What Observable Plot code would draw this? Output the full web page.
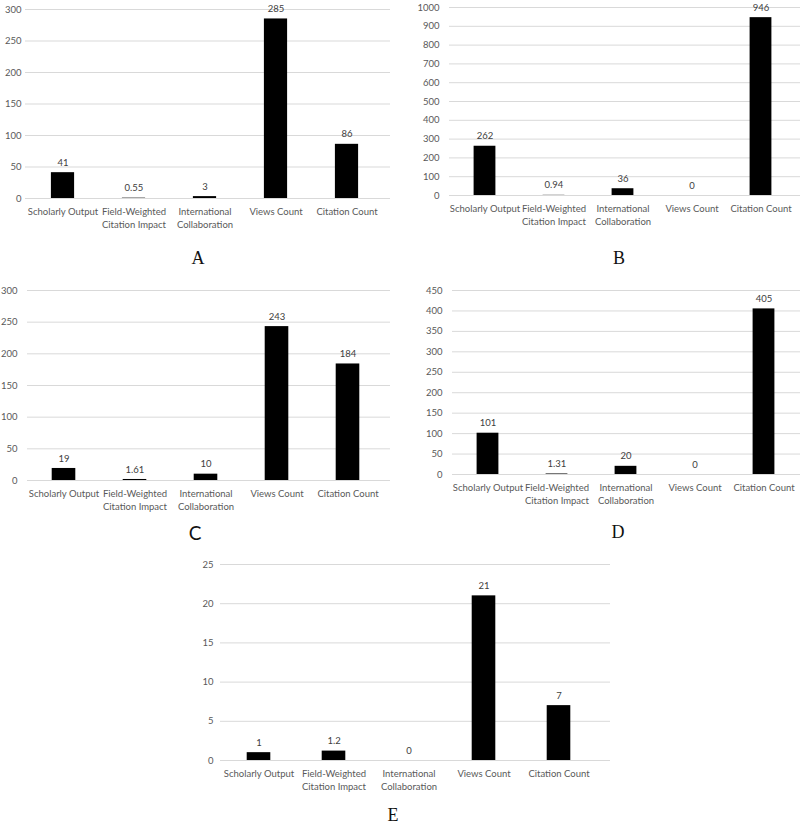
<!DOCTYPE html>
<html>
<head>
<meta charset="utf-8">
<script src="https://cdn.jsdelivr.net/npm/d3@7"></script>
<script src="https://cdn.jsdelivr.net/npm/@observablehq/plot@0.6"></script>
<style>
  body { margin: 0; background: #fff; }
  #root { position: relative; width: 800px; height: 828px; background: #fff; overflow: hidden; }
  .panel { position: absolute; }
  .letter { position: absolute; transform: translate(-50%, -50%); font-size: 18px; color: #111; line-height: 1; }
  .serif { font-family: "Liberation Serif", "DejaVu Serif", serif; }
  .sans { font-family: "Lato", "Liberation Sans", sans-serif; font-size: 19px; }
</style>
</head>
<body>
<div id="root"></div>
<script>
// Categories and tick labels
const categories = ["Scholarly Output", "Field-Weighted Citation Impact", "International Collaboration", "Views Count", "Citation Count"];
const tickLabels = ["Scholarly Output", "Field-Weighted\nCitation Impact", "International\nCollaboration", "Views Count", "Citation Count"];

// Series values per panel
const valuesA = [41, 0.55, 3, 285, 86];
const valuesB = [262, 0.94, 36, 0, 946];
const valuesC = [19, 1.61, 10, 243, 184];
const valuesD = [101, 1.31, 20, 0, 405];
const valuesE = [1, 1.2, 0, 21, 7];

// Y-axis maxima and tick steps
const yMaxA = 300, yStepA = 50;
const yMaxB = 1000, yStepB = 100;
const yMaxC = 300, yStepC = 50;
const yMaxD = 450, yStepD = 50;
const yMaxE = 25, yStepE = 5;

const panelLetters = ["A", "B", "C", "D", "E"];

const root = document.getElementById("root");

function makePanel(values, yMax, yStep, layout) {
  const data = categories.map((c, i) => ({cat: c, value: values[i]}));
  const ticks = d3.range(0, yMax + yStep / 2, yStep);
  const plotW = layout.width - layout.ml - layout.mr - layout.insetRight;
  const step = plotW / categories.length;
  const barInset = (step - layout.barW) / 2;
  const chart = Plot.plot({
    width: layout.width,
    height: layout.height,
    marginTop: layout.mt,
    marginBottom: layout.mb,
    marginLeft: layout.ml,
    marginRight: layout.mr,
    style: {fontFamily: "Lato, 'Liberation Sans', sans-serif", fontSize: "9.5px", color: "#595959", background: "transparent"},
    x: {domain: categories, padding: 0, insetRight: layout.insetRight, label: null},
    y: {domain: [0, yMax], label: null},
    marks: [
      Plot.ruleY(ticks, {stroke: "#d9d9d9", strokeWidth: 1}),
      Plot.barY(data, {x: "cat", y: "value", fill: "#000", insetLeft: barInset, insetRight: barInset}),
      Plot.text(data, {x: "cat", y: "value", text: d => String(d.value), dy: -10, fill: "#404040", fontSize: 9.5}),
      Plot.axisY({ticks, tickSize: 0, tickPadding: layout.yPad, tickFormat: d => String(d)}),
      Plot.axisX({tickSize: 0, tickPadding: 8, lineAnchor: "top", lineHeight: 1.3,
                  tickFormat: d => tickLabels[categories.indexOf(d)]})
    ]
  });
  const div = document.createElement("div");
  div.className = "panel";
  div.style.left = layout.left + "px";
  div.style.top = layout.top + "px";
  div.appendChild(chart);
  root.appendChild(div);

  const lab = document.createElement("div");
  lab.className = "letter " + layout.letterClass;
  lab.textContent = layout.letter;
  lab.style.left = layout.lx + "px";
  lab.style.top = layout.ly + "px";
  root.appendChild(lab);
}

makePanel(valuesA, yMaxA, yStepA, {left: 0, top: 0, width: 395, height: 240, mt: 9, mb: 42, ml: 25, mr: 5, insetRight: 6, barW: 24, yPad: 4,
  letter: panelLetters[0], letterClass: "serif", lx: 198, ly: 258});
makePanel(valuesB, yMaxB, yStepB, {left: 400, top: 0, width: 400, height: 237, mt: 7, mb: 42, ml: 49, mr: 0, insetRight: 5, barW: 22, yPad: 10,
  letter: panelLetters[1], letterClass: "serif", lx: 619, ly: 258});
makePanel(valuesC, yMaxC, yStepC, {left: 0, top: 280, width: 390, height: 240, mt: 10, mb: 40, ml: 27, mr: 0, insetRight: 6, barW: 24, yPad: 10,
  letter: panelLetters[2], letterClass: "sans", lx: 195, ly: 532});
makePanel(valuesD, yMaxD, yStepD, {left: 400, top: 280, width: 400, height: 234, mt: 10, mb: 40, ml: 52, mr: 0, insetRight: 2, barW: 22, yPad: 10,
  letter: panelLetters[3], letterClass: "serif", lx: 618, ly: 532});
makePanel(valuesE, yMaxE, yStepE, {left: 180, top: 555, width: 430, height: 245, mt: 9, mb: 40, ml: 40, mr: 0, insetRight: 13, barW: 24, yPad: 7,
  letter: panelLetters[4], letterClass: "serif", lx: 393, ly: 815});
</script>
</body>
</html>
